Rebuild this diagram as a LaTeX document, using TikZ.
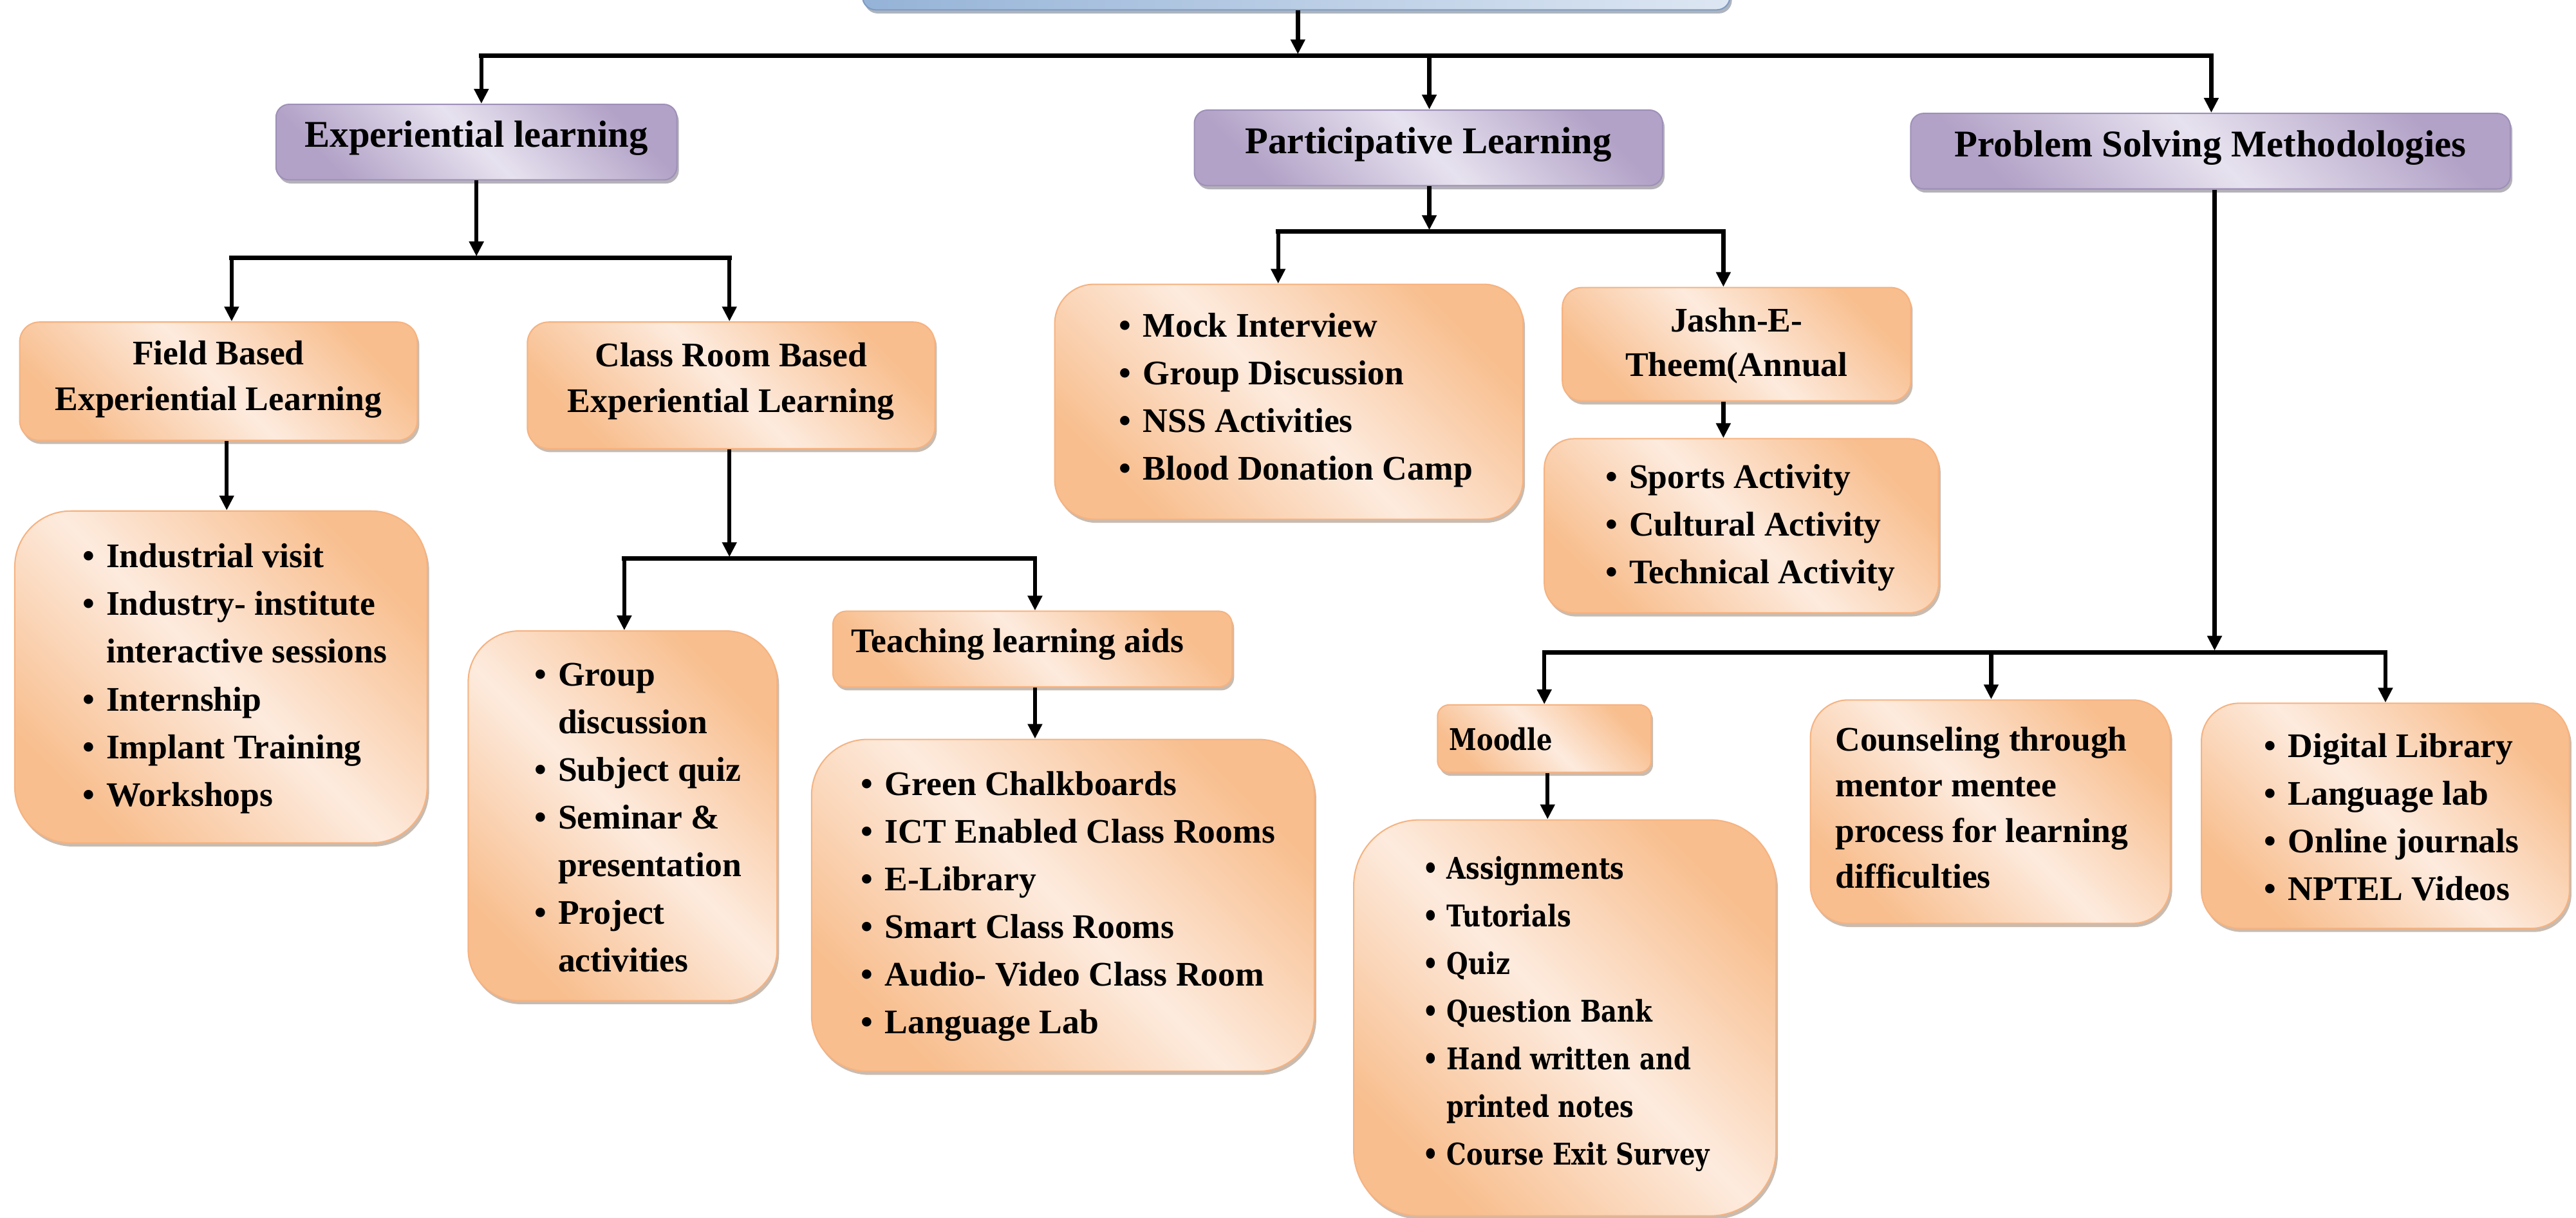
\documentclass[tikz,border=0pt]{standalone}
\usepackage{fontspec}
\setmainfont{Liberation Serif}
\newfontfamily\centfont{DejaVu Serif}[FakeStretch=0.83]
\usetikzlibrary{arrows.meta,shadows}
\definecolor{OrDark}{RGB}{248,190,142}
\definecolor{OrLight}{RGB}{253,235,222}
\definecolor{OrLine}{RGB}{246,178,128}
\definecolor{PuDark}{RGB}{178,162,199}
\definecolor{PuLight}{RGB}{231,226,239}
\definecolor{PuLine}{RGB}{158,144,184}
\definecolor{BlDark}{RGB}{149,179,215}
\definecolor{BlLight}{RGB}{221,231,243}
\definecolor{BlLine}{RGB}{125,155,195}
\newcommand\myitem[1]{\makebox[14.5pt][l]{\textbullet}#1}
\newcommand\mycont[1]{\hspace*{14.5pt}#1}
\begin{document}
\begin{tikzpicture}[x=1pt,y=-1pt,
  orshadow/.style={drop shadow={shadow xshift=1.2pt,shadow yshift=-2.2pt,opacity=0.45,fill=OrDark!55!black}},
  pushadow/.style={drop shadow={shadow xshift=1.2pt,shadow yshift=-2.2pt,opacity=0.45,fill=PuDark!50!black}},
  blshadow/.style={drop shadow={shadow xshift=1.2pt,shadow yshift=-2.2pt,opacity=0.45,fill=BlDark!50!black}},
  orbox/.style={draw=OrLine,line width=0.8pt,top color=OrDark,bottom color=OrDark,middle color=OrLight,shading angle=-45,orshadow,inner sep=0pt},
  pubox/.style={draw=PuLine,line width=0.8pt,top color=PuDark,bottom color=PuDark,middle color=PuLight,shading angle=-45,pushadow,inner sep=0pt,minimum height=46pt,rounded corners=8pt},
  ttlA/.style={font=\fontsize{23}{27}\selectfont\bfseries,inner sep=0pt},
  ttl/.style={font=\fontsize{21}{28}\selectfont\bfseries,inner sep=0pt,align=center},
  lst/.style={font=\fontsize{21}{29}\selectfont\bfseries,inner sep=0pt,align=left,anchor=west},
  cent/.style={font=\centfont\bfseries\fontsize{18.2}{29}\selectfont,inner sep=0pt,align=left,anchor=west},
  arr/.style={-{Triangle[length=9pt,width=8.5pt]},line width=2.5pt},
  bus/.style={line width=2.7pt,line cap=rect}]
\useasboundingbox (0,0) rectangle (1568,741);

% ---------- boxes ----------
\node[draw=BlLine,line width=0.8pt,left color=BlDark,right color=BlLight,blshadow,
      minimum width=528pt,minimum height=46pt,rounded corners=8pt,inner sep=0pt] (top) at (789,-17) {};

\node[pubox,minimum width=244pt] (exp) at (290,86.5) {};
\node[pubox,minimum width=285pt] (part) at (869.5,90) {};
\node[pubox,minimum width=365pt] (prob) at (1345.5,92) {};

\node[orbox,minimum width=242pt,minimum height=72pt,rounded corners=12pt] (field) at (133,232) {};
\node[orbox,minimum width=248pt,minimum height=77pt,rounded corners=13pt] (class) at (445,234.5) {};
\node[orbox,minimum width=243pt,minimum height=46pt,rounded corners=8pt] (teach) at (628.5,395) {};
\node[orbox,minimum width=212pt,minimum height=69pt,rounded corners=12pt] (jashn) at (1057,209.5) {};
\node[orbox,minimum width=130pt,minimum height=41pt,rounded corners=7pt] (moodle) at (940,449.5) {};

\node[orbox,minimum width=251pt,minimum height=202pt,rounded corners=34pt] (fl) at (134.5,412) {};
\node[orbox,minimum width=188pt,minimum height=225pt,rounded corners=31pt] (gd) at (379,496.5) {};
\node[orbox,minimum width=306pt,minimum height=202pt,rounded corners=34pt] (tl) at (647,551) {};
\node[orbox,minimum width=285pt,minimum height=143pt,rounded corners=24pt] (mi) at (784.5,244.5) {};
\node[orbox,minimum width=240pt,minimum height=106pt,rounded corners=18pt] (sa) at (1060,320) {};
\node[orbox,minimum width=257pt,minimum height=241pt,rounded corners=40pt] (ml) at (952.5,619.5) {};
\node[orbox,minimum width=219pt,minimum height=136pt,rounded corners=23pt] (co) at (1211.5,494) {};
\node[orbox,minimum width=224pt,minimum height=137pt,rounded corners=23pt] (dl) at (1452,496.5) {};

% ---------- texts ----------
\node[ttlA] (expt) at (290,84) {Experiential learning};
\node[ttlA] (partt) at (869.5,88) {Participative Learning};
\node[ttlA] (probt) at (1345.5,90) {Problem Solving Methodologies};
\node[ttl] (fieldt) at (133,231) {Field Based\\Experiential Learning};
\node[ttl] (classt) at (445,232) {Class Room Based\\Experiential Learning};
\node[ttl,font=\fontsize{21}{27}\selectfont\bfseries] (jashnt) at (1057,210.5) {Jashn-E-\\Theem(Annual};
\node[lst] (teacht) at (518,392) {Teaching learning aids};
\node[cent] (moodlet) at (882,450) {Moodle};

\node[lst] (flt) at (50,413) {\myitem{Industrial visit}\\\myitem{Industry- institute}\\\mycont{interactive sessions}\\\myitem{Internship}\\\myitem{Implant Training}\\\myitem{Workshops}};
\node[lst] (gdt) at (325,497.5) {\myitem{Group}\\\mycont{discussion}\\\myitem{Subject quiz}\\\myitem{Seminar \&}\\\mycont{presentation}\\\myitem{Project}\\\mycont{activities}};
\node[lst] (tlt) at (524,551.5) {\myitem{Green Chalkboards}\\\myitem{ICT Enabled Class Rooms}\\\myitem{E-Library}\\\myitem{Smart Class Rooms}\\\myitem{Audio- Video Class Room}\\\myitem{Language Lab}};
\node[lst] (mit) at (681,243.5) {\myitem{Mock Interview}\\\myitem{Group Discussion}\\\myitem{NSS Activities}\\\myitem{Blood Donation Camp}};
\node[lst] (sat) at (977,321) {\myitem{Sports Activity}\\\myitem{Cultural Activity}\\\myitem{Technical Activity}};
\node[cent] (mlt) at (866,617) {\myitem{Assignments}\\\myitem{Tutorials}\\\myitem{Quiz}\\\myitem{Question Bank}\\\myitem{Hand written and}\\\mycont{printed notes}\\\myitem{Course Exit Survey}};
\node[lst,font=\fontsize{21}{27.8}\selectfont\bfseries] (cot) at (1117,491.5) {Counseling through\\mentor mentee\\process for learning\\difficulties};
\node[lst] (dlt) at (1378,497.5) {\myitem{Digital Library}\\\myitem{Language lab}\\\myitem{Online journals}\\\myitem{NPTEL Videos}};

% ---------- connectors ----------
\coordinate (j0) at (790,33);
\coordinate (b0L) at (293,34);
\coordinate (b0M) at (870,34);
\coordinate (b0R) at (1346,34);
\draw[arr] (top.south -| j0) -- (j0);
\draw[bus] (b0L) -- (b0R);
\draw[arr] (b0L) -- (b0L |- exp.north);
\draw[arr] (b0M) -- (b0M |- part.north);
\draw[arr] (b0R) -- (b0R |- prob.north);

\coordinate (j1) at (290,156);
\coordinate (b1L) at (141,157);
\coordinate (b1R) at (444,157);
\draw[arr] (exp.south -| j1) -- (j1);
\draw[bus] (b1L) -- (b1R);
\draw[arr] (b1L) -- (b1L |- field.north);
\draw[arr] (b1R) -- (b1R |- class.north);

\coordinate (fx) at (138,290);
\draw[arr] (field.south -| fx) -- (fx |- fl.north);

\coordinate (j3) at (444,339);
\coordinate (b3L) at (380,340);
\coordinate (b3R) at (630,340);
\draw[arr] (class.south -| j3) -- (j3);
\draw[bus] (b3L) -- (b3R);
\draw[arr] (b3L) -- (b3L |- gd.north);
\draw[arr] (b3R) -- (b3R |- teach.north);
\draw[arr] (teach.south -| b3R) -- (b3R |- tl.north);

\coordinate (j2) at (870,140);
\coordinate (b2L) at (778,141);
\coordinate (b2R) at (1049,141);
\draw[arr] (part.south -| j2) -- (j2);
\draw[bus] (b2L) -- (b2R);
\draw[arr] (b2L) -- (b2L |- mi.north);
\draw[arr] (b2R) -- (b2R |- jashn.north);
\draw[arr] (jashn.south -| b2R) -- (b2R |- sa.north);

\coordinate (j4) at (1348,396);
\coordinate (b4L) at (940,397);
\coordinate (b4M) at (1212,397);
\coordinate (b4R) at (1452,397);
\draw[arr] (prob.south -| j4) -- (j4);
\draw[bus] (b4L) -- (b4R);
\draw[arr] (b4L) -- (b4L |- moodle.north);
\draw[arr] (b4M) -- (b4M |- co.north);
\draw[arr] (b4R) -- (b4R |- dl.north);
\coordinate (mx) at (942,485);
\draw[arr] (moodle.south -| mx) -- (mx |- ml.north);
\end{tikzpicture}
\end{document}
